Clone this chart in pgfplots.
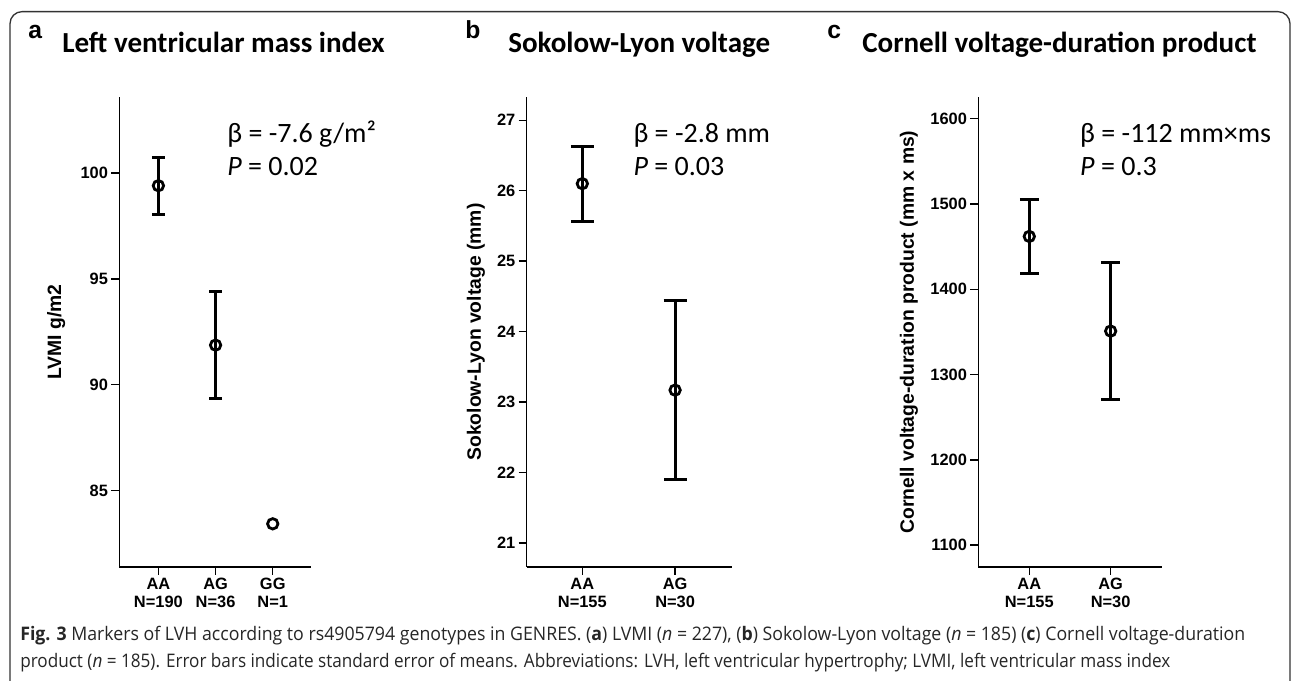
\documentclass[border=0pt]{standalone}
\usepackage{pgfplots}
\pgfplotsset{compat=1.18}
\usepackage{fontspec}
\usepackage{graphicx}
\setmainfont{Carlito}
\newfontfamily\arialf{Liberation Sans}
\newfontfamily\capf{Open Sans}

\newcommand\tl[2]{\strut #1\\\strut #2}
\tikzset{ann/.style={anchor=base west, inner sep=0pt, font=\fontsize{21}{21}\selectfont}}
\pgfplotsset{
  panel/.style={
    scale only axis,
    anchor=south west,
    axis lines=left,
    axis line style={line width=1.1pt,-},
    tick align=outside,
    major tick length=6pt,
    tick style={line width=1.1pt,black},
    xtick={1,2,3},
    yticklabel style={font=\arialf\bfseries\fontsize{12.3}{12.3}\selectfont, xshift=1pt},
    xticklabel style={align=center,anchor=north,inner sep=1.5pt,font=\arialf\bfseries\fontsize{12.3}{13.4}\selectfont},
    /pgf/number format/assume math mode=true,
    /pgf/number format/1000 sep={},
    ylabel style={anchor=center,font=\arialf\bfseries\fontsize{14.5}{14.5}\selectfont},
    clip=false,
  },
  pt/.style={black, only marks, mark=o, mark size=3.9pt, mark options={line width=2.1pt}},
  ebar/.style={pt,
    error bars/.cd, y dir=both, y explicit,
    error bar style={line width=2.25pt},
    error mark=|, error mark options={line width=2.25pt, mark size=#1}},
}

\begin{document}
\begin{tikzpicture}
\useasboundingbox (0,0) rectangle (969.75pt,510.75pt);
% frame
\draw[line width=1pt, black!80, rounded corners=9pt] (7.5pt,-2pt) -- (7.5pt,502pt) -- (967.5pt,502pt) -- (967.5pt,-2pt);

% panel letters and titles
\node[anchor=base west, font=\arialf\bfseries\fontsize{18.5}{18.5}\selectfont, inner sep=0pt] at (21pt,481.5pt) {a};
\node[anchor=base west, font=\bfseries\fontsize{21.8}{21.8}\selectfont, inner sep=0pt] at (46.5pt,471pt) {Left ventricular mass index};
\node[anchor=base west, font=\arialf\bfseries\fontsize{18.5}{18.5}\selectfont, inner sep=0pt] at (348.75pt,481.5pt) {b};
\node[anchor=base west, font=\bfseries\fontsize{21.8}{21.8}\selectfont, inner sep=0pt] at (381pt,471pt) {Sokolow-Lyon voltage};
\node[anchor=base west, font=\arialf\bfseries\fontsize{18.5}{18.5}\selectfont, inner sep=0pt] at (620.25pt,481.5pt) {c};
\node[anchor=base west, font=\bfseries\fontsize{21.8}{21.8}\selectfont, inner sep=0pt] at (646.5pt,471pt) {Cornell voltage-duration product};

% panel a
\begin{axis}[panel, at={(89.5pt,85.5pt)}, width=143.8pt, height=352.5pt,
  xmin=0.317, xmax=3.67, ymin=81.39, ymax=103.59,
  ytick={85,90,95,100},
  xticklabels={{\tl{AA}{N=190}},{\tl{AG}{N=36}},{\tl{GG}{N=1}}},
  ylabel={LVMI g/m2},
  ylabel style={at={(axis description cs:-0.330,0.5)}}]
\addplot[ebar=4.9pt] coordinates {
  (1,99.40) +- (0,1.34)
  (2,91.87) +- (0,2.53)
};
\addplot[pt] coordinates {(3,83.43)};
\node[ann] at (rel axis cs:0.562,0.904) {β = -7.6 g/m²};
\node[ann] at (rel axis cs:0.562,0.832) {\textit{P} = 0.02};
\end{axis}

% panel b
\begin{axis}[panel, at={(395pt,85.5pt)}, width=153.75pt, height=352.5pt,
  xmin=0.4, xmax=2.61, ymin=20.66, ymax=27.33,
  ytick={21,22,23,24,25,26,27},
  xtick={1,2},
  xticklabels={{\tl{AA}{N=155}},{\tl{AG}{N=30}}},
  ylabel={Sokolow-Lyon voltage (mm)},
  ylabel style={at={(axis description cs:-0.247,0.5)}}]
\addplot[ebar=8.6pt] coordinates {
  (1,26.10) +- (0,0.53)
  (2,23.17) +- (0,1.27)
};
\node[ann] at (rel axis cs:0.52,0.904) {β = -2.8 mm};
\node[ann] at (rel axis cs:0.52,0.832) {\textit{P} = 0.03};
\end{axis}

% panel c
\begin{axis}[panel, at={(733.7pt,85.5pt)}, width=137.55pt, height=352.5pt,
  xmin=0.373, xmax=2.627, ymin=1074.4, ymax=1625.5,
  ytick={1100,1200,1300,1400,1500,1600},
  xtick={1,2},
  xticklabels={{\tl{AA}{N=155}},{\tl{AG}{N=30}}},
  ylabel={Cornell voltage-duration product (mm x ms)},
  ylabel style={at={(axis description cs:-0.378,0.5)}}]
\addplot[ebar=7pt] coordinates {
  (1,1462) +- (0,43)
  (2,1351) +- (0,80)
};
\node[ann] at (rel axis cs:0.5545,0.904) {β = -112 mm×ms};
\node[ann] at (rel axis cs:0.5545,0.832) {\textit{P} = 0.3};
\end{axis}

% caption
\node[anchor=base west, inner sep=0pt, text=black!85] at (15pt,30pt) {\resizebox{918.75pt}{\height}{\capf\fontsize{14}{14}\selectfont \textbf{Fig. 3} Markers of LVH according to rs4905794 genotypes in GENRES. (\textbf{a}) LVMI (\textit{n} = 227), (\textbf{b}) Sokolow-Lyon voltage (\textit{n} = 185) (\textbf{c}) Cornell voltage-duration}};
\node[anchor=base west, inner sep=0pt, text=black!85] at (15pt,9.75pt) {\resizebox{862.5pt}{\height}{\capf\fontsize{14}{14}\selectfont product (\textit{n} = 185). Error bars indicate standard error of means. Abbreviations: LVH, left ventricular hypertrophy; LVMI, left ventricular mass index}};
\end{tikzpicture}
\end{document}
